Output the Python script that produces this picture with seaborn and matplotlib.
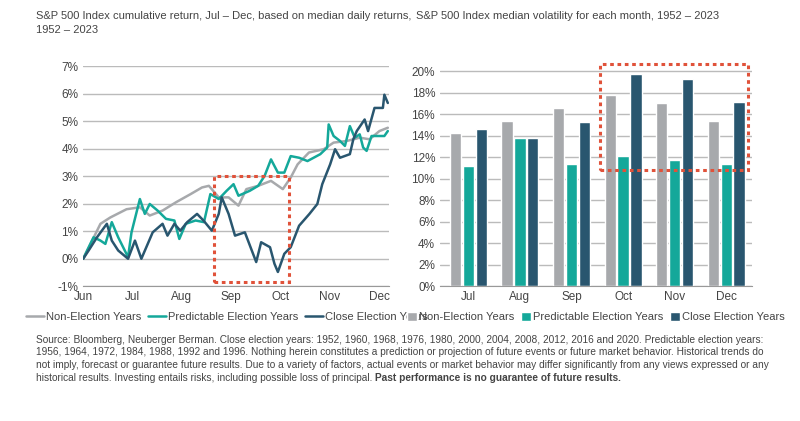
import numpy as np
import pandas as pd
import matplotlib
matplotlib.use("Agg")
import matplotlib.pyplot as plt
import seaborn as sns
from matplotlib.patches import Rectangle

# ---------------- data ----------------
months_line = ["Jun", "Jul", "Aug", "Sep", "Oct", "Nov", "Dec"]

non_x = [0, 0.35, 0.55, 0.88, 1.15, 1.35, 1.61, 1.88, 2.18, 2.41, 2.55, 2.75, 2.95, 3.15, 3.31,
         3.55, 3.81, 4.05, 4.21, 4.35, 4.58, 4.88, 5.08, 5.35, 5.61, 5.81, 6.01, 6.18]
non_y = [0, 1.27, 1.5, 1.8, 1.87, 1.57, 1.75, 2.05, 2.35, 2.59, 2.65, 2.23, 2.23, 1.93, 2.53,
         2.65, 2.83, 2.53, 2.95, 3.43, 3.86, 3.98, 4.22, 4.28, 4.4, 4.34, 4.64, 4.76]

pred_x = [0, 0.08, 0.21, 0.35, 0.45, 0.58, 0.71, 0.91, 0.98, 1.15, 1.25, 1.35, 1.51, 1.68, 1.85,
          1.95, 2.08, 2.28, 2.45, 2.58, 2.75, 2.91, 3.05, 3.15, 3.38, 3.55, 3.68, 3.81, 3.95,
          4.08, 4.21, 4.38, 4.55, 4.81, 4.95, 4.98, 5.08, 5.21, 5.31, 5.41, 5.51, 5.61, 5.68,
          5.75, 5.85, 6.11, 6.18]
pred_y = [0, 0.3, 0.78, 0.66, 0.54, 1.33, 0.78, 0.06, 0.96, 2.17, 1.63, 1.99, 1.75, 1.45, 1.39,
          0.72, 1.27, 1.39, 1.33, 2.35, 2.17, 2.47, 2.71, 2.29, 2.47, 2.65, 3.01, 3.61, 3.13,
          3.13, 3.73, 3.67, 3.55, 3.8, 4.04, 4.88, 4.46, 4.28, 4.1, 4.82, 4.4, 4.52, 4.04,
          3.92, 4.46, 4.46, 4.64]

close_x = [0, 0.11, 0.28, 0.48, 0.58, 0.71, 0.91, 1.05, 1.18, 1.41, 1.61, 1.71, 1.85, 1.97,
           2.11, 2.31, 2.44, 2.61, 2.75, 2.81, 2.95, 3.08, 3.28, 3.51, 3.61, 3.79, 3.88, 3.95,
           4.08, 4.21, 4.38, 4.59, 4.75, 4.85, 5.01, 5.11, 5.21, 5.41, 5.48, 5.55, 5.71, 5.78,
           5.91, 6.08, 6.11, 6.18]
close_y = [0, 0.3, 0.78, 1.27, 0.66, 0.3, 0, 0.66, 0, 0.96, 1.27, 0.84, 1.27, 1.02,
           1.33, 1.63, 1.39, 1.02, 1.63, 2.23, 1.63, 0.84, 0.96, -0.12, 0.6, 0.42, -0.18, -0.48,
           0.18, 0.42, 1.2, 1.63, 1.99, 2.71, 3.43, 3.98, 3.67, 3.8, 4.34, 4.64, 5.06, 4.64,
           5.48, 5.48, 5.96, 5.66]

bar_months = ["Jul", "Aug", "Sep", "Oct", "Nov", "Dec"]
non_vol = [14.3, 15.4, 16.6, 17.8, 17.1, 15.4]
pred_vol = [11.2, 13.8, 11.4, 12.1, 11.8, 11.4]
close_vol = [14.6, 13.8, 15.3, 19.8, 19.3, 17.2]

series = ["Non-Election Years", "Predictable Election Years", "Close Election Years"]
colors = ["#a7a9ac", "#14a89a", "#29566f"]
red = "#e0523a"

sns.set_style("white")
plt.rcParams["font.family"] = ["Liberation Sans Narrow", "Liberation Sans", "DejaVu Sans"]
text_c = "#444444"

fig = plt.figure(figsize=(8, 4.21), dpi=100)

# ---------------- left: lines ----------------
ax1 = fig.add_axes([0.104, 0.32, 0.382, 0.523])
for xs, ys, name, c in zip([non_x, pred_x, close_x], [non_y, pred_y, close_y], series, colors):
    sns.lineplot(x=xs, y=ys, ax=ax1, color=c, linewidth=1.8, label=name)
ax1.set_xlim(0, 6.2)
ax1.set_ylim(-1, 7)
ax1.set_yticks(range(-1, 8))
ax1.set_yticklabels([f"{v}%" for v in range(-1, 8)])
ax1.set_xticks(range(7))
ax1.set_xticklabels(months_line)
ax1.yaxis.grid(True, color="#bbbbbb", linewidth=1)
ax1.add_patch(Rectangle((2.65, -0.85), 1.53, 3.85, fill=False, edgecolor=red,
                        linestyle=(0, (1.2, 1.2)), linewidth=2.2, zorder=5))
ax1.legend(loc="upper center", bbox_to_anchor=(0.47, -0.07), ncol=3, frameon=False,
           fontsize=8, handlelength=1.6, handletextpad=0.2, columnspacing=0.6)

# ---------------- right: bars ----------------
ax2 = fig.add_axes([0.55, 0.32, 0.39, 0.523])
df = pd.DataFrame({
    "month": bar_months * 3,
    "series": sum([[s] * 6 for s in series], []),
    "vol": non_vol + pred_vol + close_vol,
})
sns.barplot(data=df, x="month", y="vol", hue="series", palette=colors, ax=ax2,
            width=0.75, gap=0.12, saturation=1)
ax2.set_xlim(-0.55, 5.5)
ax2.set_ylim(0, 20.5)
ax2.set_yticks(range(0, 21, 2))
ax2.set_yticklabels([f"{v}%" for v in range(0, 21, 2)])
ax2.yaxis.grid(True, color="#bbbbbb", linewidth=1)
ax2.set_axisbelow(True)
ax2.add_patch(Rectangle((2.56, 10.8), 2.87, 9.9, fill=False, edgecolor=red,
                        linestyle=(0, (1.2, 1.2)), linewidth=2.2, zorder=5, clip_on=False))
ax2.legend(loc="upper center", bbox_to_anchor=(0.5, -0.07), ncol=3, frameon=False,
           fontsize=8, handlelength=0.9, handleheight=0.9, handletextpad=0.2, columnspacing=0.6)

for ax in (ax1, ax2):
    ax.set_xlabel("")
    ax.set_ylabel("")
    ax.tick_params(labelsize=8.5, colors=text_c, length=0)
    for s in ["top", "right", "left"]:
        ax.spines[s].set_visible(False)
    ax.spines["bottom"].set_color("#999999")
    for t in ax.get_legend().get_texts():
        t.set_color(text_c)

# ---------------- text ----------------
fig.text(0.045, 0.975, "S&P 500 Index cumulative return, Jul \u2013 Dec, based on median daily returns,\n1952 \u2013 2023",
         fontsize=8, color=text_c, va="top", linespacing=1.5)
fig.text(0.52, 0.975, "S&P 500 Index median volatility for each month, 1952 \u2013 2023",
         fontsize=8, color=text_c, va="top")

foot = ("Source: Bloomberg, Neuberger Berman. Close election years: 1952, 1960, 1968, 1976, 1980, 2000, 2004, 2008, 2012, 2016 and 2020. Predictable election years:\n"
        "1956, 1964, 1972, 1984, 1988, 1992 and 1996. Nothing herein constitutes a prediction or projection of future events or future market behavior. Historical trends do\n"
        "not imply, forecast or guarantee future results. Due to a variety of factors, actual events or market behavior may differ significantly from any views expressed or any")
last = "historical results. Investing entails risks, including possible loss of principal. "
fig.text(0.045, 0.205, foot, fontsize=7.3, color=text_c, va="top", linespacing=1.35)
t_last = fig.text(0.045, 0.205 - 3 * 0.0305, last, fontsize=7.3, color=text_c, va="top")
fig.canvas.draw()
bb = t_last.get_window_extent().transformed(fig.transFigure.inverted())
fig.text(bb.x1, 0.205 - 3 * 0.0305, "Past performance is no guarantee of future results.",
         fontsize=7.3, color=text_c, va="top", fontweight="bold")

fig.savefig("out.png", dpi=100)
